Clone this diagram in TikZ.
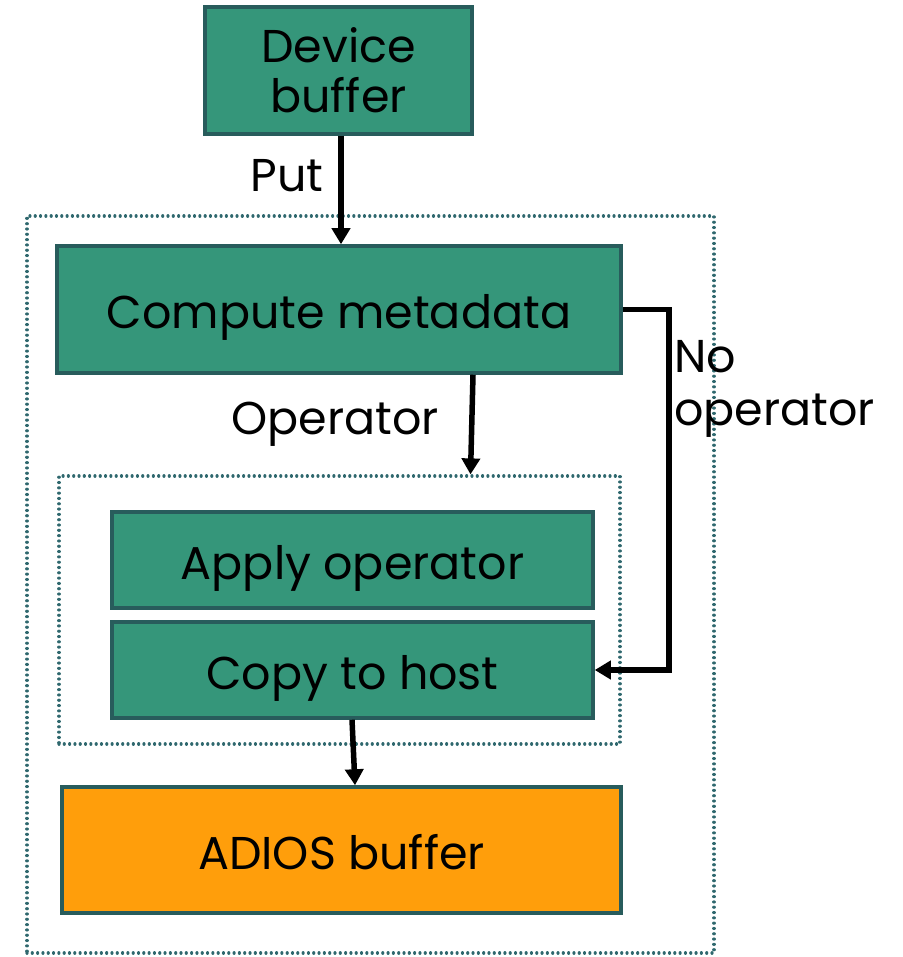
\documentclass[tikz,border=0pt]{standalone}
\usepackage{fontspec}
\setmainfont{Poppins}
\usetikzlibrary{arrows.meta}
\definecolor{boxgreen}{RGB}{53,150,122}
\definecolor{boxedge}{RGB}{40,92,92}
\definecolor{boxorange}{RGB}{255,158,11}
\definecolor{dotedge}{RGB}{47,104,110}
\tikzset{
  gbox/.style={draw=boxedge, fill=boxgreen, line width=3.5pt, inner sep=0pt, align=center, font=\fontsize{46}{50}\selectfont},
  onebox/.style={gbox, text height=44pt, text depth=6pt},
  obox/.style={onebox, fill=boxorange},
  dotbox/.style={draw=dotedge, line width=3.2pt, line cap=round, dash pattern=on 0.01pt off 5.3pt, inner sep=0pt},
  arr/.style={draw=black, line width=5.5pt, -{Triangle[width=18pt,length=16pt]}},
  lbl/.style={font=\fontsize{46}{53}\selectfont, inner sep=0pt, align=left}
}
\begin{document}
\begin{tikzpicture}[x=1pt,y=-1pt]
\useasboundingbox (0,0) rectangle (902,957);
\node[dotbox, minimum width=687pt, minimum height=737pt] (outer) at (370.5,584.5) {};
\node[dotbox, minimum width=561pt, minimum height=268pt] (inner) at (339.5,610) {};
\node[gbox, minimum width=267pt, minimum height=127pt] (dev) at (338.5,70.5) {Device\\buffer};
\node[onebox, minimum width=564pt, minimum height=127pt] (comp) at (339,309.5) {Compute metadata};
\node[onebox, minimum width=481pt, minimum height=96pt] (apply) at (352.5,560) {Apply operator};
\node[onebox, minimum width=481pt, minimum height=96pt] (copy) at (352.5,670) {Copy to host};
\node[obox, minimum width=559pt, minimum height=126pt] (adios) at (341.5,850) {ADIOS buffer};
\node[lbl] (put) at (287,176) {Put};
\node[lbl] (op) at (335,424) {Operator};
\node[lbl, anchor=north west] (noop) at (674,340) {No\\operator};
\draw[arr] ([xshift=2.5pt]dev.south) -- ([xshift=2.5pt]dev.south |- comp.north);
\draw[arr] ([xshift=134pt]comp.south) -- ([xshift=131pt]inner.north);
\draw[arr] (comp.east) -- ++(46,0) |- (copy.east);
\draw[arr] ([xshift=-0.5pt]copy.south) -- ([xshift=13.5pt]adios.north);
\end{tikzpicture}
\end{document}
